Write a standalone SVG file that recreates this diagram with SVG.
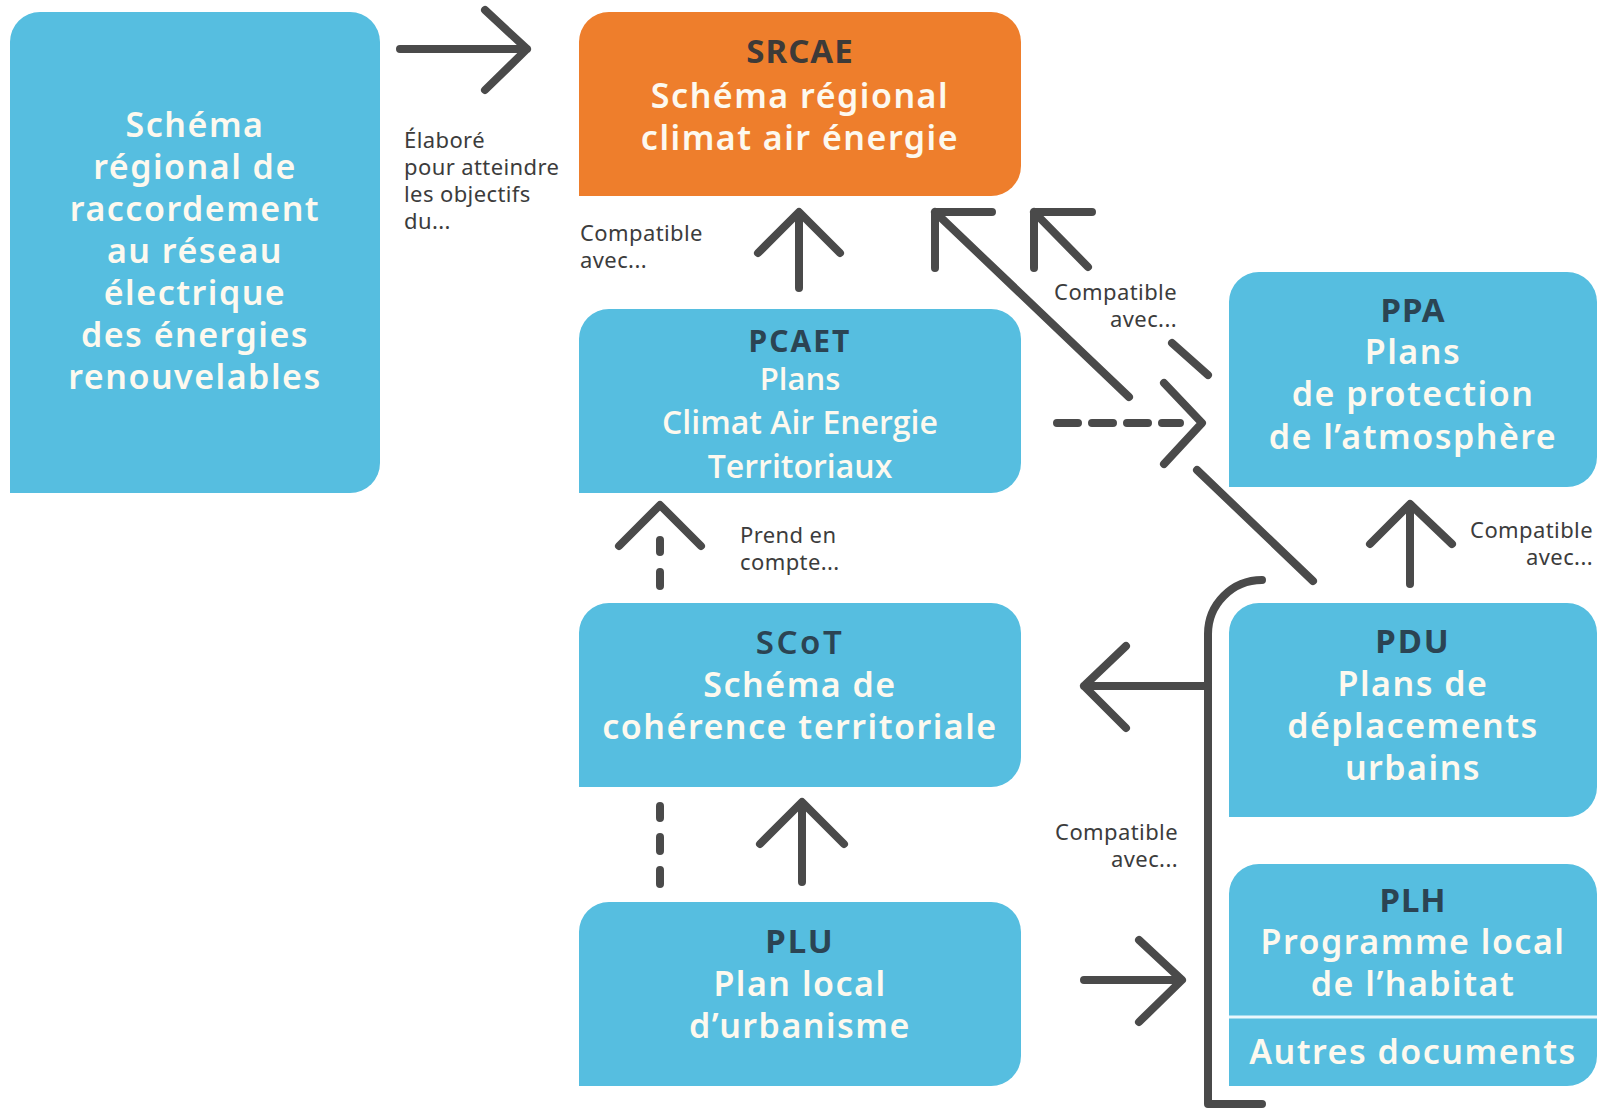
<svg xmlns="http://www.w3.org/2000/svg" width="1598" height="1108" viewBox="0 0 1598 1108">
<style>
.blue{fill:#56bee0}
.orange{fill:#ee7e2c}
.q{font-family:"Noto Sans","Liberation Sans",sans-serif;font-weight:600;font-size:34px;letter-spacing:1.5px;fill:#fdf9ef;text-anchor:middle}
.t{font-family:"Noto Sans","Liberation Sans",sans-serif;font-weight:700;font-size:33px;letter-spacing:1px;fill:#2b4453;text-anchor:middle}
.u{font-family:"Open Sans","Noto Sans",sans-serif;font-weight:600;font-size:32px;fill:#fdf9ef;text-anchor:middle}
.lbl{font-family:"Noto Sans","Liberation Sans",sans-serif;font-size:22px;letter-spacing:0.4px;fill:#3c3c3c}
.end{text-anchor:end}
.c{fill:none;stroke:#4a4a4a;stroke-width:8;stroke-linecap:round;stroke-linejoin:round}
</style>
<rect width="1598" height="1108" fill="#ffffff"/>
<g id="node-srraccord">
<path class="blue" d="M10,493 V42 A30,30 0 0 1 40,12 H350 A30,30 0 0 1 380,42 V463 A30,30 0 0 1 350,493 Z"/>
<text class="q" x="195" y="137">Schéma</text>
<text class="q" x="195" y="179">régional de</text>
<text class="q" x="195" y="221">raccordement</text>
<text class="q" x="195" y="263">au réseau</text>
<text class="q" x="195" y="305">électrique</text>
<text class="q" x="195" y="347">des énergies</text>
<text class="q" x="195" y="389">renouvelables</text>
</g>
<g id="node-srcae">
<path class="orange" d="M579,196 V42 A30,30 0 0 1 609,12 H991 A30,30 0 0 1 1021,42 V166 A30,30 0 0 1 991,196 Z"/>
<text class="t" x="800" y="63" style="fill:#3d3a38">SRCAE</text>
<text class="q" x="800" y="108">Schéma régional</text>
<text class="q" x="800" y="150">climat air énergie</text>
</g>
<g id="node-pcaet">
<path class="blue" d="M579,493 V339 A30,30 0 0 1 609,309 H991 A30,30 0 0 1 1021,339 V463 A30,30 0 0 1 991,493 Z"/>
<text class="t" x="800" y="352" style="font-size:30px;letter-spacing:2px">PCAET</text>
<text class="u" x="800" y="390" style="font-size:31px">Plans</text>
<text class="u" x="800" y="434">Climat Air Energie</text>
<text class="u" x="800" y="478">Territoriaux</text>
</g>
<g id="node-scot">
<path class="blue" d="M579,787 V633 A30,30 0 0 1 609,603 H991 A30,30 0 0 1 1021,633 V757 A30,30 0 0 1 991,787 Z"/>
<text class="t" x="800" y="654" style="font-weight:600;letter-spacing:2.5px">SCoT</text>
<text class="q" x="800" y="697">Schéma de</text>
<text class="q" x="800" y="739">cohérence territoriale</text>
</g>
<g id="node-plu">
<path class="blue" d="M579,1086 V932 A30,30 0 0 1 609,902 H991 A30,30 0 0 1 1021,932 V1056 A30,30 0 0 1 991,1086 Z"/>
<text class="t" x="800" y="953" style="letter-spacing:2px">PLU</text>
<text class="q" x="800" y="996">Plan local</text>
<text class="q" x="800" y="1038">d’urbanisme</text>
</g>
<g id="node-ppa">
<path class="blue" d="M1229,487 V302 A30,30 0 0 1 1259,272 H1567 A30,30 0 0 1 1597,302 V457 A30,30 0 0 1 1567,487 Z"/>
<text class="t" x="1413" y="322">PPA</text>
<text class="q" x="1413" y="364">Plans</text>
<text class="q" x="1413" y="406">de protection</text>
<text class="q" x="1413" y="449">de l’atmosphère</text>
</g>
<g id="node-pdu">
<path class="blue" d="M1229,817 V633 A30,30 0 0 1 1259,603 H1567 A30,30 0 0 1 1597,633 V787 A30,30 0 0 1 1567,817 Z"/>
<text class="t" x="1413" y="653" style="letter-spacing:2px">PDU</text>
<text class="q" x="1413" y="696">Plans de</text>
<text class="q" x="1413" y="738">déplacements</text>
<text class="q" x="1413" y="780">urbains</text>
</g>
<g id="node-plh">
<path class="blue" d="M1229,1086 V894 A30,30 0 0 1 1259,864 H1567 A30,30 0 0 1 1597,894 V1056 A30,30 0 0 1 1567,1086 Z"/>
<line x1="1229" y1="1017" x2="1597" y2="1017" stroke="#eaf7fc" stroke-width="3"/>
<text class="t" x="1413" y="912">PLH</text>
<text class="q" x="1413" y="954">Programme local</text>
<text class="q" x="1413" y="996">de l’habitat</text>
<text class="q" x="1413" y="1064">Autres documents</text>
</g>
<g id="connectors">
<path class="c" d="M400,49 H527 M485,10 L527,49 L485,90"/>
<path class="c" d="M799,288 V214 M758,253 L799,212 L840,253"/>
<path class="c" d="M1129,397 L935,212 M935,268 V212 H992 M1197,470 L1313,581"/>
<path class="c" d="M1034,268 V212 H1092 M1034,212 L1088,267 M1172,343 L1208,375"/>
<path class="c" d="M1057,423 H1078 M1092,423 H1113 M1127,423 H1148 M1162,423 H1180 M1164,383 L1202,423 L1164,464"/>
<path class="c" d="M1410,584 V506 M1370,544 L1410,504 L1452,544"/>
<path class="c" d="M1262,580 A54,54 0 0 0 1208,634 V1104 H1262"/>
<path class="c" d="M1208,686 H1084 M1126,646 L1084,686 L1126,728"/>
<path class="c" d="M660,540 V552 M660,572 V586 M619,546 L660,505 L701,546"/>
<path class="c" d="M660,806 V818 M660,837 V851 M660,870 V884"/>
<path class="c" d="M802,882 V805 M760,844 L802,802 L844,844"/>
<path class="c" d="M1084,980 H1180 M1139,940 L1182,980 L1139,1022"/>
<g class="lbl">
<text x="404" y="148">Élaboré<tspan x="404" dy="27">pour atteindre</tspan><tspan x="404" dy="27">les objectifs</tspan><tspan x="404" dy="27">du...</tspan></text>
<text x="580" y="241">Compatible<tspan x="580" dy="27">avec...</tspan></text>
<text class="end" x="1177" y="300">Compatible<tspan x="1177" dy="27">avec...</tspan></text>
<text x="740" y="543">Prend en<tspan x="740" dy="27">compte...</tspan></text>
<text class="end" x="1593" y="538">Compatible<tspan x="1593" dy="27">avec...</tspan></text>
<text class="end" x="1178" y="840">Compatible<tspan x="1178" dy="27">avec...</tspan></text>
</g>
</g>
</svg>
